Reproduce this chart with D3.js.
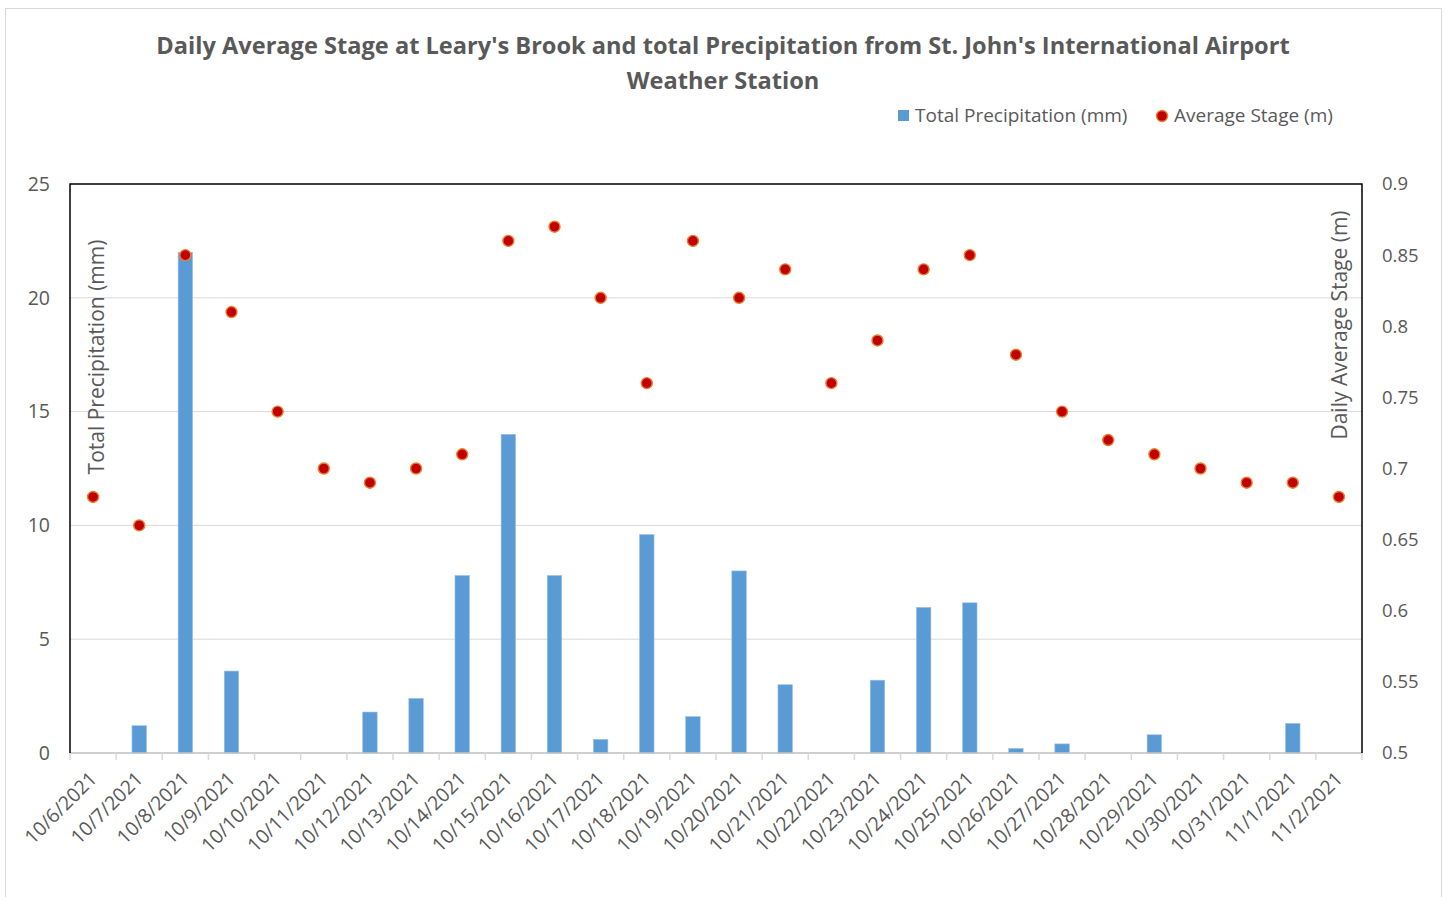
<!DOCTYPE html>
<html>
<head>
<meta charset="utf-8">
<script src="https://cdn.jsdelivr.net/npm/d3@7"></script>
<style>
  body { margin: 0; background: #fff; }
  svg { display: block; font-family: "Open Sans", "Noto Sans", sans-serif; }
</style>
</head>
<body>
<svg id="chart" width="1447" height="897"></svg>
<script>
// data
const dates = ['10/6/2021', '10/7/2021', '10/8/2021', '10/9/2021', '10/10/2021', '10/11/2021', '10/12/2021',
  '10/13/2021', '10/14/2021', '10/15/2021', '10/16/2021', '10/17/2021', '10/18/2021', '10/19/2021',
  '10/20/2021', '10/21/2021', '10/22/2021', '10/23/2021', '10/24/2021', '10/25/2021', '10/26/2021',
  '10/27/2021', '10/28/2021', '10/29/2021', '10/30/2021', '10/31/2021', '11/1/2021', '11/2/2021'];
const precip = [0, 1.2, 22, 3.6, 0, 0, 1.8, 2.4, 7.8, 14, 7.8, 0.6, 9.6, 1.6,
  8.0, 3.0, 0, 3.2, 6.4, 6.6, 0.2, 0.4, 0, 0.8, 0, 0, 1.3, 0];
const stage = [0.68, 0.66, 0.85, 0.81, 0.74, 0.70, 0.69, 0.70, 0.71, 0.86, 0.87, 0.82, 0.76, 0.86,
  0.82, 0.84, 0.76, 0.79, 0.84, 0.85, 0.78, 0.74, 0.72, 0.71, 0.70, 0.69, 0.69, 0.68];
const leftTicks = [0, 5, 10, 15, 20, 25];
const rightTicks = [0.5, 0.55, 0.6, 0.65, 0.7, 0.75, 0.8, 0.85, 0.9];

const svg = d3.select('#chart');
const textColor = '#595959';
const plot = { left: 70, right: 1362, top: 184, bottom: 753 };

// outer chart border
svg.append('rect')
  .attr('x', 5.5).attr('y', 8.5)
  .attr('width', 1436).attr('height', 900)
  .attr('fill', 'none').attr('stroke', '#d9d9d9');

// title
const title = svg.append('text')
  .attr('text-anchor', 'middle')
  .attr('fill', textColor)
  .attr('font-weight', 'bold')
  .attr('font-size', '23.6px');
title.append('tspan').attr('x', 723).attr('y', 54)
  .text("Daily Average Stage at Leary's Brook and total Precipitation from St. John's International Airport");
title.append('tspan').attr('x', 723).attr('y', 89).text('Weather Station');

const x = d3.scaleBand().domain(dates).range([plot.left, plot.right]);
const yL = d3.scaleLinear().domain([0, 25]).range([plot.bottom, plot.top]);
const yR = d3.scaleLinear().domain([0.5, 0.9]).range([plot.bottom, plot.top]);

// gridlines
svg.append('g').selectAll('line')
  .data(leftTicks.slice(1, -1))
  .enter().append('line')
  .attr('x1', plot.left).attr('x2', plot.right)
  .attr('y1', d => yL(d)).attr('y2', d => yL(d))
  .attr('stroke', '#d9d9d9').attr('stroke-width', 1);

// bars
const barW = 14.5;
svg.append('g').selectAll('rect')
  .data(precip)
  .enter().append('rect')
  .attr('x', (d, i) => x(dates[i]) + x.bandwidth() / 2 - barW / 2)
  .attr('y', d => yL(d))
  .attr('width', barW)
  .attr('height', d => plot.bottom - yL(d))
  .attr('fill', '#5b9bd5')
  .attr('stroke', d => d > 0 ? '#9dc3e6' : 'none')
  .attr('stroke-width', 0.6);

// bottom axis line + ticks at category boundaries
svg.append('line')
  .attr('x1', plot.left).attr('x2', plot.right)
  .attr('y1', plot.bottom).attr('y2', plot.bottom)
  .attr('stroke', '#bfbfbf').attr('stroke-width', 1.5);
const bounds = dates.map(d => x(d)).concat([plot.right]);
svg.append('g').selectAll('line')
  .data(bounds)
  .enter().append('line')
  .attr('x1', d => d).attr('x2', d => d)
  .attr('y1', plot.bottom).attr('y2', plot.bottom + 7)
  .attr('stroke', '#d9d9d9').attr('stroke-width', 1.5);

// plot border: left, top, right in black
svg.append('path')
  .attr('d', `M${plot.left},${plot.bottom}V${plot.top}H${plot.right}V${plot.bottom}`)
  .attr('fill', 'none').attr('stroke', '#000').attr('stroke-width', 1.5);

// stage points
svg.append('g').selectAll('circle')
  .data(stage)
  .enter().append('circle')
  .attr('cx', (d, i) => x(dates[i]) + x.bandwidth() / 2)
  .attr('cy', d => yR(d))
  .attr('r', 5.5)
  .attr('fill', '#c00000')
  .attr('stroke', '#ed7d31')
  .attr('stroke-width', 1.4);

// left tick labels
svg.append('g').selectAll('text')
  .data(leftTicks)
  .enter().append('text')
  .attr('x', 50).attr('y', d => yL(d))
  .attr('dy', '0.35em')
  .attr('text-anchor', 'end')
  .attr('fill', textColor)
  .attr('font-size', '19.5px')
  .text(d => d);

// right tick labels
svg.append('g').selectAll('text')
  .data(rightTicks)
  .enter().append('text')
  .attr('x', 1382).attr('y', d => yR(d))
  .attr('dy', '0.35em')
  .attr('fill', textColor)
  .attr('font-size', '18.5px')
  .text(d => d3.format('~g')(d));

// x labels rotated
svg.append('g').selectAll('text')
  .data(dates)
  .enter().append('text')
  .attr('text-anchor', 'end')
  .attr('fill', textColor)
  .attr('font-size', '19.5px')
  .attr('transform', d => `translate(${x(d) + x.bandwidth() / 2 + 5},${plot.bottom + 27}) rotate(-45)`)
  .text(d => d);

// axis titles
svg.append('text')
  .attr('transform', `translate(104,357) rotate(-90)`)
  .attr('text-anchor', 'middle')
  .attr('fill', textColor)
  .attr('font-size', '21px')
  .text('Total Precipitation (mm)');
svg.append('text')
  .attr('transform', `translate(1347,325) rotate(-90)`)
  .attr('text-anchor', 'middle')
  .attr('fill', textColor)
  .attr('font-size', '21px')
  .text('Daily Average Stage (m)');

// legend
const legend = svg.append('g').attr('font-size', '19px').attr('fill', textColor);
legend.append('rect')
  .attr('x', 898).attr('y', 110).attr('width', 11).attr('height', 11)
  .attr('fill', '#5b9bd5');
legend.append('text').attr('x', 915).attr('y', 115).attr('dy', '0.35em')
  .text('Total Precipitation (mm)');
legend.append('circle')
  .attr('cx', 1162).attr('cy', 116).attr('r', 5.5)
  .attr('fill', '#c00000').attr('stroke', '#ed7d31').attr('stroke-width', 1.4);
legend.append('text').attr('x', 1174).attr('y', 115).attr('dy', '0.35em')
  .text('Average Stage (m)');
</script>
</body>
</html>
